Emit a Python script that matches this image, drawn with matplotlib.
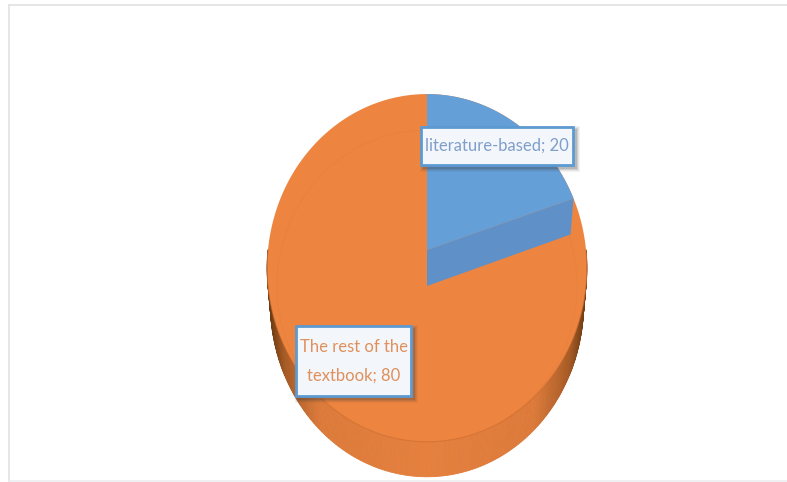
import numpy as np
import matplotlib
matplotlib.use('Agg')
import matplotlib.pyplot as plt
from matplotlib.collections import PolyCollection
from matplotlib.colors import LinearSegmentedColormap
from matplotlib.patches import Polygon, Rectangle

categories = ['literature-based', 'The rest of the\ntextbook']
values = [20, 80]

ORANGE = '#ed8540'
BLUE = '#659fd8'
BLUE_CUT = '#5f91c8'
BORDER = '#5d9ad2'

# pie centre and size on the canvas, tilted with a simple perspective
cx, cy = 427, 250
sx, sy = 159, 172
tilt = 0.103
depth = 35


def project(theta):
    # clockwise from twelve o'clock, nearer edge drawn larger
    u, v = np.sin(theta), np.cos(theta)
    w = 1 + tilt * v
    return np.column_stack([cx + sx * u / w, cy - sy * v / w])


fig = plt.figure(figsize=(7.87, 4.82), dpi=100)
ax = fig.add_axes([0, 0, 1, 1])
ax.set_xlim(0, 787)
ax.set_ylim(482, 0)
ax.axis('off')

# chart frame
ax.plot([9, 9], [482, 5], color='#e2e2e2', lw=1.2)
ax.plot([9, 787], [5, 5], color='#e2e2e2', lw=1.2)
ax.plot([9, 787], [481, 481], color='#eceef0', lw=1.2)

# side wall of the pie, the lower rim is slightly narrower and dark only at the ends
side_cmap = LinearSegmentedColormap.from_list(
    'side', [(0, '#6e3c14'), (0.05, '#a85c26'), (0.16, '#dc7a3a'), (0.5, '#e5803e'),
             (0.84, '#dc7a3a'), (0.95, '#a85c26'), (1, '#6e3c14')])
angles = np.linspace(np.pi / 2, 3 * np.pi / 2, 241)
rim = project(angles)
lower = rim + [0, depth]
lower[:, 0] = cx + (lower[:, 0] - cx) * 0.98
quads = []
shades = []
for i in range(len(angles) - 1):
    quads.append([rim[i], rim[i + 1], lower[i + 1], lower[i]])
    shades.append(side_cmap((rim[i][0] - 267) / 320))
ax.add_collection(PolyCollection(quads, facecolors=shades, edgecolors=shades, linewidths=0.6, zorder=1))

# top faces, the small slice sits above the large one
full = project(np.linspace(0, 2 * np.pi, 361))
ax.add_patch(Polygon(full, closed=True, facecolor=ORANGE, edgecolor='none', zorder=1.1))
ax.plot(*project(angles).T, color='#c96a2e', lw=0.7, alpha=0.7, zorder=1.2)

# faint bevel ring on the top face
ring_t = np.linspace(0, 2 * np.pi, 361)
ax.plot(427 + 150 * np.sin(ring_t), 286 - 156 * np.cos(ring_t), color='#e07c3b', lw=0.7, alpha=0.35, zorder=1.2)

end_angle = 2 * np.pi * values[0] / sum(values)
edge = project(np.array([end_angle]))[0]
apex = np.array([cx, cy])
cut = [apex, edge, edge + [-3, depth + 1], apex + [0, depth + 1]]
ax.add_patch(Polygon(cut, closed=True, facecolor=BLUE_CUT, edgecolor='none', zorder=1.3))
arc = project(np.linspace(0, end_angle, 80))
ax.add_patch(Polygon(np.vstack([apex, arc]), closed=True, facecolor=BLUE, edgecolor='none', zorder=1.3))


def label_box(x0, y0, x1, y1, text, color, size):
    # soft drop shadow below the box
    for grow, alpha in [(4, 0.06), (3, 0.08), (2, 0.12), (1, 0.16)]:
        ax.add_patch(Rectangle((x0 + 3 - grow, y0 + 3 - grow), x1 - x0 + 2 * grow, y1 - y0 + 2 * grow,
                               facecolor='#3a3a3a', edgecolor='none', alpha=alpha, zorder=2))
    ax.add_patch(Rectangle((x0, y0), x1 - x0, y1 - y0, facecolor='#f3f6fa', edgecolor=BORDER, lw=2, zorder=3))
    ax.text((x0 + x1) / 2, (y0 + y1) / 2, text, color=color, fontsize=size, ha='center', va='center',
            family='Lato', linespacing=2.0, zorder=4)


label_box(421, 127, 573, 165, f'{categories[0]}; {values[0]}', '#7f9fcb', 12)
label_box(296, 326, 411, 396, f'{categories[1]}; {values[1]}', '#e0905c', 12)

plt.savefig('out.png', dpi=100)
